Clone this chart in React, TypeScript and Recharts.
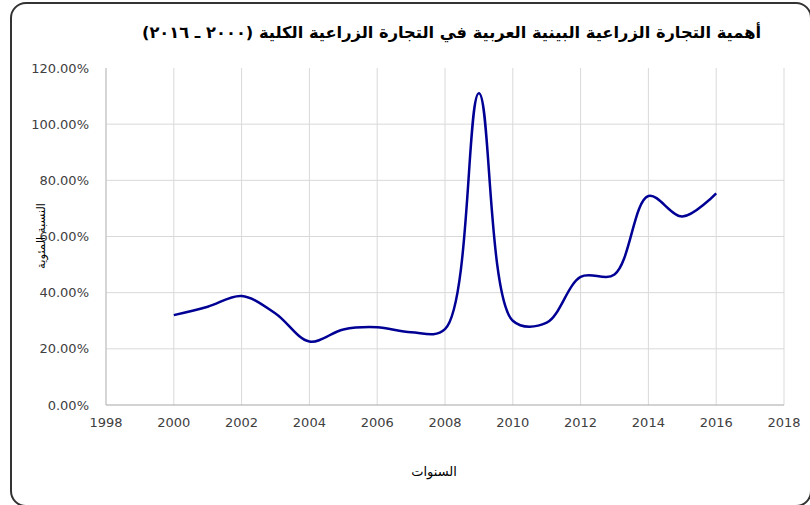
import React from "react";
import { LineChart, Line, XAxis, YAxis, CartesianGrid } from "recharts";

// سنوات السلسلة والقيم المقروءة من الرسم (نسبة من 1)
const years = [2000, 2001, 2002, 2003, 2004, 2005, 2006, 2007, 2008, 2009, 2010, 2011, 2012, 2013, 2014, 2015, 2016];
const shares = [0.32, 0.35, 0.388, 0.326, 0.226, 0.269, 0.277, 0.259, 0.27, 1.11, 0.3, 0.293, 0.456, 0.465, 0.744, 0.671, 0.754];

const xTicks = [1998, 2000, 2002, 2004, 2006, 2008, 2010, 2012, 2014, 2016, 2018];
const yTicks = [0, 0.2, 0.4, 0.6, 0.8, 1.0, 1.2];
const gridY = [0.2, 0.4, 0.6, 0.8, 1.0];

const title = "أهمية التجارة الزراعية البينية العربية في التجارة الزراعية الكلية (٢٠٠٠ ـ ٢٠١٦)";
const yTitle = "النسبة المئوية";
const xTitle = "السنوات";

const data = years.map((year, i) => ({ year, share: shares[i] }));

// smoothed line, centripetal catmull-rom so the spike doesn't overshoot much
const smoothCurve = (context: any) => {
  let pts: number[][] = [];
  const alpha = 0.5;
  return {
    areaStart() {},
    areaEnd() {},
    lineStart() {
      pts = [];
    },
    lineEnd() {
      if (!pts.length) return;
      context.moveTo(pts[0][0], pts[0][1]);
      const dist = (a: number[], b: number[]) => Math.hypot(b[0] - a[0], b[1] - a[1]);
      for (let i = 0; i < pts.length - 1; i++) {
        const p0 = pts[i - 1] || pts[i];
        const p1 = pts[i];
        const p2 = pts[i + 1];
        const p3 = pts[i + 2] || p2;
        const l01a = Math.pow(dist(p0, p1), alpha);
        const l12a = Math.pow(dist(p1, p2), alpha);
        const l23a = Math.pow(dist(p2, p3), alpha);
        const l01_2a = l01a * l01a;
        const l12_2a = l12a * l12a;
        const l23_2a = l23a * l23a;
        let c1 = [p1[0], p1[1]];
        let c2 = [p2[0], p2[1]];
        if (l01a > 1e-6) {
          const a = 2 * l01_2a + 3 * l01a * l12a + l12_2a;
          const n = 3 * l01a * (l01a + l12a);
          c1 = [
            (p1[0] * a - p0[0] * l12_2a + p2[0] * l01_2a) / n,
            (p1[1] * a - p0[1] * l12_2a + p2[1] * l01_2a) / n,
          ];
        }
        if (l23a > 1e-6) {
          const b = 2 * l23_2a + 3 * l23a * l12a + l12_2a;
          const m = 3 * l23a * (l23a + l12a);
          c2 = [
            (p2[0] * b + p1[0] * l23_2a - p3[0] * l12_2a) / m,
            (p2[1] * b + p1[1] * l23_2a - p3[1] * l12_2a) / m,
          ];
        }
        context.bezierCurveTo(c1[0], c1[1], c2[0], c2[1], p2[0], p2[1]);
      }
    },
    point(x: number, y: number) {
      pts.push([+x, +y]);
    },
  };
};

const tickStyle = { fontFamily: "DejaVu Sans", fontSize: 13, fill: "#404040" };

export default function App() {
  return (
    <div style={{ position: "relative", width: 810, height: 505, overflow: "hidden", background: "#fff" }}>
      <style>{"body{margin:0}"}</style>
      <div
        style={{
          position: "absolute",
          left: 10,
          top: 2,
          width: 802,
          height: 505,
          border: "2px solid #333",
          borderRadius: 16,
          boxSizing: "border-box",
        }}
      />
      <div
        dir="rtl"
        style={{
          position: "absolute",
          left: 0,
          width: 903,
          top: 23,
          textAlign: "center",
          fontFamily: "DejaVu Sans",
          fontWeight: "bold",
          fontSize: 16.3,
          color: "#000",
          whiteSpace: "nowrap",
        }}
      >
        {title}
      </div>
      <LineChart
        width={810}
        height={505}
        data={data}
        margin={{ top: 68, right: 26, bottom: 70, left: 0 }}
        style={{ position: "absolute", left: 0, top: 0 }}
      >
        <CartesianGrid stroke="#d9d9d9" horizontalValues={gridY} />
        <XAxis
          dataKey="year"
          type="number"
          domain={[1998, 2018]}
          ticks={xTicks}
          height={30}
          tickLine={false}
          tickSize={0}
          tickMargin={13}
          axisLine={{ stroke: "#a6a6a6" }}
          tick={tickStyle}
        />
        <YAxis
          type="number"
          domain={[0, 1.2]}
          ticks={yTicks}
          width={106}
          tickLine={false}
          tickSize={0}
          tickMargin={17}
          axisLine={{ stroke: "#bfbfbf" }}
          tick={tickStyle}
          tickFormatter={(v: number) => (v * 100).toFixed(2) + "%"}
        />
        <Line
          dataKey="share"
          type={smoothCurve as any}
          stroke="#000095"
          strokeWidth={2.5}
          dot={false}
          isAnimationActive={false}
        />
      </LineChart>
      <div
        style={{
          position: "absolute",
          left: 41,
          top: 236,
          transform: "translate(-50%, -50%) rotate(-90deg)",
          fontFamily: "DejaVu Sans",
          fontSize: 11.5,
          color: "#000",
          whiteSpace: "nowrap",
        }}
      >
        {yTitle}
      </div>
      <div
        style={{
          position: "absolute",
          left: 434,
          top: 471,
          transform: "translate(-50%, -50%)",
          fontFamily: "DejaVu Sans",
          fontSize: 13,
          color: "#000",
          whiteSpace: "nowrap",
        }}
      >
        {xTitle}
      </div>
    </div>
  );
}
